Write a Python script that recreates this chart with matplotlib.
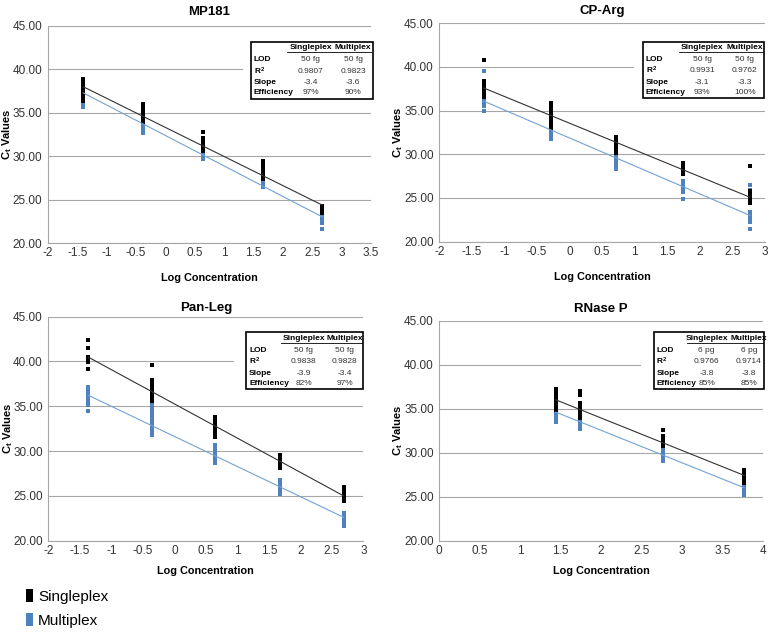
import numpy as np
import matplotlib.pyplot as plt
from matplotlib.patches import Patch, Rectangle

plt.rcParams['font.family'] = 'Liberation Sans'
plt.rcParams['axes.unicode_minus'] = False
plt.rcParams['mathtext.fontset'] = 'custom'
plt.rcParams['mathtext.rm'] = 'Liberation Sans'
plt.rcParams['mathtext.bf'] = 'Liberation Sans:bold'
plt.rcParams['mathtext.it'] = 'Liberation Sans:italic'

BLUE = '#4F81BD'
BLUE_LINE = '#72A2D6'
GRID = '#A6A6A6'

# ---- MP181 ----
x_mp181 = [-1.40, -0.38, 0.64, 1.66, 2.67]
single_mp181 = [[38.9, 38.6, 38.2, 37.9, 37.6, 37.3, 36.9, 36.6, 36.4],
                [36.0, 35.7, 35.4, 35.1, 34.8, 34.5, 34.2, 33.9],
                [32.8, 32.1, 31.8, 31.5, 31.2, 30.9, 30.6],
                [29.4, 29.1, 28.8, 28.5, 28.2, 27.9, 27.6, 27.4],
                [24.3, 24.0, 23.7, 23.4]]
multi_mp181 = [[37.2, 36.9, 36.6, 36.3, 36.0, 35.7],
               [34.2, 33.9, 33.6, 33.3, 33.0, 32.7],
               [30.5, 30.2, 29.9, 29.7],
               [27.4, 27.1, 26.8, 26.5],
               [23.2, 22.9, 22.6, 22.3, 21.6]]
fit_single_mp181 = (-3.35, 33.31)   # slope, intercept
fit_multi_mp181 = (-3.51, 32.38)
table_mp181 = [['50 fg', '50 fg'], ['0.9807', '0.9823'], ['-3.4', '-3.6'], ['97%', '90%']]

# ---- CP-Arg ----
x_cparg = [-1.32, -0.29, 0.72, 1.74, 2.77]
single_cparg = [[40.8, 38.4, 38.1, 37.8, 37.5, 37.2, 36.9, 36.6],
                [35.9, 35.4, 35.1, 34.8, 34.5, 34.2, 33.9, 33.6, 33.3, 33.0],
                [32.0, 31.7, 31.4, 31.1, 30.8, 30.5, 30.2],
                [29.0, 28.7, 28.4, 28.1, 27.8],
                [28.7, 25.8, 25.5, 25.2, 24.9, 24.6, 24.4]]
multi_cparg = [[39.55, 37.0, 36.7, 36.4, 36.1, 35.8, 35.5, 34.9],
               [33.1, 32.8, 32.5, 32.2, 31.9, 31.7],
               [30.2, 29.9, 29.6, 29.3, 29.0, 28.7, 28.3],
               [26.9, 26.6, 26.3, 26.0, 25.7, 24.9],
               [26.5, 25.9, 23.4, 23.1, 22.8, 22.5, 22.2, 21.5]]
fit_single_cparg = (-3.06, 33.56)
fit_multi_cparg = (-3.20, 31.87)
table_cparg = [['50 fg', '50 fg'], ['0.9931', '0.9762'], ['-3.1', '-3.3'], ['93%', '100%']]

# ---- Pan-Leg ----
x_panleg = [-1.37, -0.36, 0.65, 1.68, 2.69]
single_panleg = [[42.45, 41.5, 40.5, 40.2, 39.9, 39.15],
                 [39.6, 37.9, 37.6, 37.3, 37.0, 36.7, 36.4, 36.1, 35.8, 35.6],
                 [33.8, 33.4, 33.1, 32.8, 32.5, 32.2, 31.9, 31.6],
                 [29.6, 29.3, 29.0, 28.7, 28.4, 28.1],
                 [26.0, 25.6, 25.3, 25.0, 24.7, 24.4]]
multi_panleg = [[37.2, 36.9, 36.5, 36.2, 35.9, 35.5, 35.1, 34.5],
                [35.3, 34.9, 34.5, 34.1, 33.7, 33.3, 32.9, 32.5, 32.1, 31.8],
                [30.7, 30.3, 29.9, 29.5, 29.1, 28.7],
                [26.8, 26.4, 26.0, 25.6, 25.2],
                [23.1, 22.7, 22.3, 21.9, 21.6]]
fit_single_panleg = (-3.82, 35.27)
fit_multi_panleg = (-3.36, 31.64)
table_panleg = [['50 fg', '50 fg'], ['0.9838', '0.9828'], ['-3.9', '-3.4'], ['82%', '97%']]

# ---- RNase P ----
x_rnasep = [1.44, 1.74, 2.76, 3.77]
single_rnasep = [[37.2, 36.9, 36.6, 36.3, 36.0, 35.7, 35.4, 35.1, 34.9],
                 [37.0, 36.7, 36.5, 35.7, 35.4, 35.1, 34.8, 34.5, 34.2, 33.9],
                 [32.6, 31.9, 31.6, 31.3, 31.0, 30.8],
                 [28.0, 27.7, 27.4, 27.1, 26.8, 26.6]]
multi_rnasep = [[34.9, 34.6, 34.3, 34.0, 33.7, 33.5],
                [33.8, 33.5, 33.2, 32.9, 32.65],
                [30.8, 30.5, 30.2, 29.9, 29.6, 29.3, 29.05],
                [26.6, 26.3, 26.0, 25.5, 25.2]]
fit_single_rnasep = (-3.69, 41.32)
fit_multi_rnasep = (-3.69, 39.92)
table_rnasep = [['6 pg', '6 pg'], ['0.9766', '0.9714'], ['-3.8', '-3.8'], ['85%', '85%']]

row_labels = ['LOD', r'R$^\mathbf{2}$', 'Slope', 'Efficiency']
col_labels = ['Singleplex', 'Multiplex']
yticks = [20, 25, 30, 35, 40, 45]


def panel(ax, title, xs, single, multi, fit_s, fit_m, xticks, table, box, white_x0,
          title_pad, xlab_y, cols=(0.49, 0.84)):
    for x, vals in zip(xs, multi):
        ax.plot([x] * len(vals), vals, 's', color=BLUE, ms=2.2, mew=0, zorder=4)
    for x, vals in zip(xs, single):
        ax.plot([x] * len(vals), vals, 's', color='black', ms=2.2, mew=0, zorder=5)
    xl = np.array([xs[0], xs[-1]])
    ax.plot(xl, fit_s[1] + fit_s[0] * xl, color='#333333', lw=0.8, zorder=6)
    ax.plot(xl, fit_m[1] + fit_m[0] * xl, color=BLUE_LINE, lw=0.8, zorder=6)

    ax.set_ylim(20, 45)
    ax.set_yticks(yticks)
    ax.set_yticklabels([f'{v:.2f}' for v in yticks])
    ax.set_xlim(xticks[0], xticks[-1])
    ax.set_xticks(xticks)
    ax.set_xticklabels([f'{v:g}' for v in xticks])
    ax.tick_params(length=0, labelsize=8.5, labelcolor='#333333')
    ax.tick_params(axis='x', pad=3)
    ax.tick_params(axis='y', pad=4)
    ax.grid(axis='y', color=GRID, lw=0.8)
    ax.set_axisbelow(True)
    for s in ['top', 'right']:
        ax.spines[s].set_visible(False)
    for s in ['left', 'bottom']:
        ax.spines[s].set_color(GRID)
        ax.spines[s].set_linewidth(0.8)

    ax.set_title(title, fontsize=9.5, fontweight='bold', pad=title_pad)
    ax.set_xlabel('Log Concentration', fontsize=7.8, fontweight='bold')
    ax.xaxis.set_label_coords(0.5, xlab_y)
    ax.set_ylabel(r'C$_\mathbf{t}$ Values', fontsize=8, fontweight='bold')
    ax.yaxis.set_label_coords(-0.105, 0.5)

    # stats table
    x0, y0, x1, y1 = box
    w, h = x1 - x0, y1 - y0
    ax.add_patch(Rectangle((white_x0, y0 - 0.04), 1.05 - white_x0, h + 0.06,
                           transform=ax.transAxes, facecolor='white',
                           edgecolor='none', zorder=3, clip_on=False))
    ax.add_patch(Rectangle((x0, y0), w, h, transform=ax.transAxes, fill=False,
                           edgecolor='black', lw=1.2, zorder=7, clip_on=False))
    cx = [x0 + cols[0] * w, x0 + cols[1] * w]
    hy = y1 - 0.105 * h
    for c, lab in zip(cx, col_labels):
        ax.text(c, hy, lab, transform=ax.transAxes, ha='center', va='center',
                fontsize=6, fontweight='bold', zorder=8)
    ax.plot([x0 + 0.30 * w, x1 - 0.01 * w], [y1 - 0.19 * h] * 2, color='black',
            lw=0.6, transform=ax.transAxes, zorder=8, clip_on=False)
    for frac, lab, vals in zip([0.31, 0.515, 0.72, 0.895], row_labels, table):
        ry = y1 - frac * h
        ax.text(x0 + 0.025 * w, ry, lab, transform=ax.transAxes, ha='left',
                va='center', fontsize=6, fontweight='bold', zorder=8)
        for c, v in zip(cx, vals):
            ax.text(c, ry, v, transform=ax.transAxes, ha='center', va='center',
                    fontsize=6, color='#333333', zorder=8)


fig = plt.figure(figsize=(7.72, 6.32), dpi=100)
ax1 = fig.add_axes([0.0622, 0.6155, 0.4184, 0.3434])
ax2 = fig.add_axes([0.5690, 0.6176, 0.4219, 0.3456])
ax3 = fig.add_axes([0.0626, 0.1445, 0.4080, 0.3544])
ax4 = fig.add_axes([0.5690, 0.1445, 0.4193, 0.3481])

panel(ax1, 'MP181', x_mp181, single_mp181, multi_mp181, fit_single_mp181,
      fit_multi_mp181, list(np.arange(-2, 3.51, 0.5)), table_mp181,
      (0.628, 0.664, 1.005, 0.928), 0.604, 8.1, -0.14)
panel(ax2, 'CP-Arg', x_cparg, single_cparg, multi_cparg, fit_single_cparg,
      fit_multi_cparg, list(np.arange(-2, 3.01, 0.5)), table_cparg,
      (0.625, 0.657, 0.998, 0.916), 0.597, 6.7, -0.141)
panel(ax3, 'Pan-Leg', x_panleg, single_panleg, multi_panleg, fit_single_panleg,
      fit_multi_panleg, list(np.arange(-2, 3.01, 0.5)), table_panleg,
      (0.628, 0.676, 1.0, 0.930), 0.588, 4.3, -0.113)
panel(ax4, 'RNase P', x_rnasep, single_rnasep, multi_rnasep, fit_single_rnasep,
      fit_multi_rnasep, list(np.arange(0, 4.01, 0.5)), table_rnasep,
      (0.662, 0.688, 1.004, 0.947), 0.623, 6.3, -0.115, cols=(0.48, 0.86))

handles = [Patch(facecolor='black'), Patch(facecolor=BLUE)]
fig.legend(handles, ['Singleplex', 'Multiplex'], loc='upper left',
           bbox_to_anchor=(0.0337, 0.0682), frameon=False, fontsize=11,
           handlelength=0.48, handleheight=0.95, handletextpad=0.3,
           labelspacing=0.62, borderpad=0, borderaxespad=0)

fig.savefig('out.png', dpi=100)
